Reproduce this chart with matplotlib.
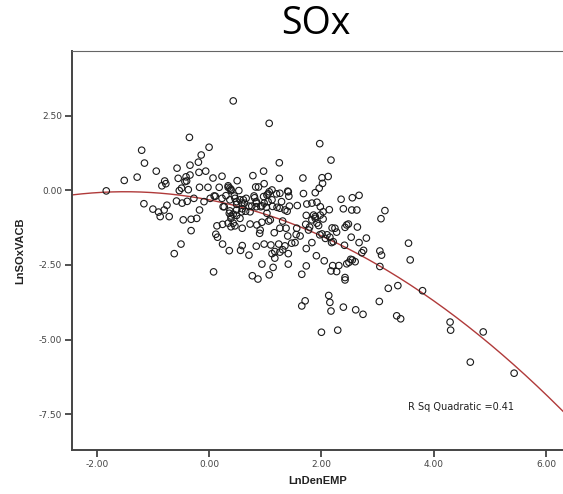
import numpy as np
import matplotlib
matplotlib.use("Agg")
import matplotlib.pyplot as plt

# LnDenEMP / LnSOxVACB observations
den_emp = [
    0.43, 1.07, -0.35, 0.00, -1.20, -0.14, -1.15, 1.25, -0.19, -0.34,
    -1.51, -1.28, -0.94, -0.57, -0.06, -0.18, -0.55, -0.40, 0.07, 0.23,
    0.50, 0.78, 0.97, 1.25, 1.67, -0.79, -0.77, -0.84, -1.83, -0.53,
    -0.49, -0.37, -0.17, -0.02, 0.18, 0.34, 0.39, 0.53, 0.83, 0.88,
    0.98, 1.07, 1.12, 1.26, 1.41, 1.42,
    -1.16, -1.00, -0.90, -0.87, -0.75, -0.80, -0.71, -0.58, -0.48, -0.39,
    -0.27, -0.17, -0.09, 0.02, 0.11, 0.25, 0.30, 0.37, 0.46, 0.49,
    0.55, 0.63, 0.71, 0.59, 0.73, 0.84, 0.92, 1.02, 1.13, 1.21,
    1.35, 1.39, 1.57, 1.73,
    -0.46, -0.32, -0.22, -0.32, 0.14, 0.12, 0.15, 0.24, 0.34, 0.39,
    0.43, 0.39, 0.46, 0.55, 0.59, 0.73, 0.85, 0.90, 0.94, 1.06,
    1.16, 1.26, 1.31, 1.37, 1.40, 1.55, 1.62, 1.72,
    0.24, 0.36, 0.56, 0.59, 0.71, 0.84, 0.98, 1.12, 1.10, 1.24,
    1.31, 1.35, 1.41, 1.53, 1.73, -0.50, -0.62, 0.08, 0.77, 0.87,
    0.94, 1.07, 1.14, 1.41, 1.73, 1.65, 1.74,
    1.97, 2.17, 2.01, 2.12, 2.02, 1.96, 1.89, 1.68, 1.20, 1.40,
    0.97, 0.81, 1.83, 1.92, 2.35, 2.55, 2.67, 1.43, 1.98, 2.14,
    2.39, 2.63, 3.13, 3.06, 1.86, 1.89, 1.95, 1.79, 2.03, 2.42,
    2.48, 2.64, 2.19, 2.27, 2.10, 1.97, 2.53, 2.80, 2.67, 2.75,
    2.72, 2.41, 2.18, 1.83, 1.91, 2.05, 2.20, 2.17, 2.31, 2.49,
    2.52, 2.42, 3.04, 3.07, 3.04, 3.55, 3.58, 3.19, 3.36, 3.80,
    2.42, 1.71, 1.65, 2.13, 2.15, 2.17, 2.39, 2.61, 2.74, 3.03,
    3.34, 3.41, 2.00, 2.29, 4.29, 4.30, 4.88, 4.65, 5.43,
    -0.41, -0.34, -0.43, 0.34, 0.37, 0.39, 1.05, 0.09, 0.23, 0.27,
    0.45, 0.49, 0.58, 0.61, 0.66, 0.80, 0.84, 0.76, 0.84, 0.94,
    0.98, 1.05, 0.37, 0.49, 0.65, 0.43, 0.39, 0.49, 0.91, 0.36,
    0.58,
    1.29, 1.12, 1.03, 1.26, 2.03, 2.54,
    1.89, 1.98, 1.83, 1.92, 1.77, 2.01, 2.07, 2.15, 2.24, 2.45,
    2.21, 2.55, 2.60, 2.45, 2.27,
    1.03, 1.09, 1.56, 1.47, 1.17, 1.26, 1.17,
]
ln_sox_vacb = [
    2.99, 2.24, 1.77, 1.44, 1.34, 1.18, 0.91, 0.92, 0.94, 0.84,
    0.33, 0.44, 0.64, 0.74, 0.64, 0.60, 0.40, 0.31, 0.41, 0.47,
    0.32, 0.49, 0.64, 0.40, 0.41, 0.31, 0.22, 0.15, -0.02, -0.01,
    0.07, 0.02, 0.10, 0.10, 0.10, 0.10, 0.03, -0.01, 0.11, 0.11,
    0.22, -0.05, 0.01, -0.10, -0.05, -0.20,
    -0.45, -0.63, -0.73, -0.88, -0.50, -0.66, -0.88, -0.36, -0.43, -0.37,
    -0.27, -0.66, -0.38, -0.27, -0.20, -0.55, -0.18, -0.32, -0.27, -0.47,
    -0.32, -0.43, -0.53, -0.62, -0.72, -0.43, -0.55, -0.57, -0.54, -0.57,
    -0.66, -0.70, -0.51, -0.84,
    -0.99, -0.97, -0.94, -1.35, -1.19, -1.47, -1.57, -1.14, -1.10, -1.22,
    -0.80, -0.94, -1.19, -0.94, -1.27, -1.13, -1.16, -1.44, -1.07, -1.03,
    -1.42, -1.27, -1.03, -1.27, -1.53, -1.48, -1.53, -1.14,
    -1.80, -2.02, -2.01, -1.85, -2.17, -1.87, -1.80, -2.12, -1.83, -1.80,
    -1.99, -1.86, -2.12, -1.75, -1.95, -1.80, -2.12, -2.73, -2.86, -2.97,
    -2.47, -2.83, -2.58, -2.47, -2.53, -2.81, -0.46,
    1.56, 1.01, 0.42, 0.46, 0.23, 0.07, -0.08, -0.11, -0.12, -0.03,
    -0.21, -0.25, -0.43, -0.40, -0.30, -0.25, -0.17, -0.53, -0.55, -0.65,
    -0.62, -0.66, -0.68, -0.95, -0.83, -0.94, -1.18, -1.23, -0.96, -1.24,
    -1.13, -1.23, -1.26, -1.40, -1.49, -1.49, -1.57, -1.60, -1.75, -2.01,
    -2.09, -1.84, -1.75, -1.75, -2.19, -2.36, -2.52, -2.70, -2.52, -2.41,
    -2.31, -2.92, -2.03, -2.17, -2.55, -1.77, -2.33, -3.28, -3.19, -3.36,
    -3.00, -3.70, -3.87, -3.52, -3.75, -4.04, -3.91, -4.00, -4.15, -3.72,
    -4.20, -4.30, -4.75, -4.68, -4.41, -4.68, -4.74, -5.75, -6.12,
    0.45, 0.51, 0.29, 0.15, 0.07, -0.01, -0.12, -0.19, -0.27, -0.55,
    -0.19, -0.38, -0.43, -0.32, -0.27, -0.19, -0.38, -0.53, -0.55, -0.52,
    -0.43, -0.38, -0.69, -0.66, -0.70, -1.10, -0.86, -0.84, -1.33, -0.77,
    -0.72,
    -0.38, -0.32, -0.16, -0.60, -0.72, -0.66,
    -0.88, -0.83, -0.99, -1.10, -1.33, -1.46, -1.61, -1.57, -1.27, -1.16,
    -1.72, -2.33, -2.39, -2.46, -2.72,
    -0.77, -0.99, -1.27, -1.77, -2.05, -2.07, -2.27,
]

# quadratic fit line (constant, linear, quadratic terms) and its R squared
fit_coefs = [-0.32, -0.362, -0.1208]
r_sq = 0.41

x_ticks = [-2.0, 0.0, 2.0, 4.0, 6.0]
y_ticks = [2.5, 0.0, -2.5, -5.0, -7.5]

fig = plt.figure(figsize=(5.63, 4.94), dpi=100)
ax = fig.add_axes([72 / 563, 44 / 494, 1 - 72 / 563, 399 / 494])

ax.scatter(den_emp, ln_sox_vacb, s=22, facecolors='none',
           edgecolors='#1a1a1a', linewidths=0.8, zorder=3)

xs = np.linspace(-2.44, 6.30, 300)
ys = fit_coefs[0] + fit_coefs[1] * xs + fit_coefs[2] * xs ** 2
ax.plot(xs, ys, color='#b03a3a', lw=1.0, zorder=2)

ax.text(3.54, -7.25, f'R Sq Quadratic ={r_sq:.2f}', fontsize=7,
        color='#222222', va='center', ha='left')

ax.set_xlim(-2.44, 6.30)
ax.set_ylim(-8.69, 4.66)
ax.set_xticks(x_ticks)
ax.set_yticks(y_ticks)
ax.set_xticklabels([f'{v:.2f}' for v in x_ticks])
ax.set_yticklabels([f'{v:.2f}' for v in y_ticks])
ax.tick_params(axis='both', direction='out', length=5, width=1.2,
               labelsize=6.5, labelcolor='#444444', color='#333333', pad=2)

for side in ['left', 'bottom']:
    ax.spines[side].set_color('#444444')
    ax.spines[side].set_linewidth(1.4)
ax.spines['top'].set_color('#666666')
ax.spines['top'].set_linewidth(0.8)
ax.spines['right'].set_visible(False)

ax.set_xlabel('LnDenEMP', fontsize=8, fontweight='bold', family='Liberation Sans',
              color='#222222', labelpad=5)
ax.set_ylabel('LnSOxVACB', fontsize=8, fontweight='bold', family='Liberation Sans',
              color='#222222', labelpad=10)

fig.text(0.561, 0.951, 'SOx', fontsize=27, family='Open Sans',
         ha='center', va='center', color='black')

fig.savefig('out.png', dpi=100)
